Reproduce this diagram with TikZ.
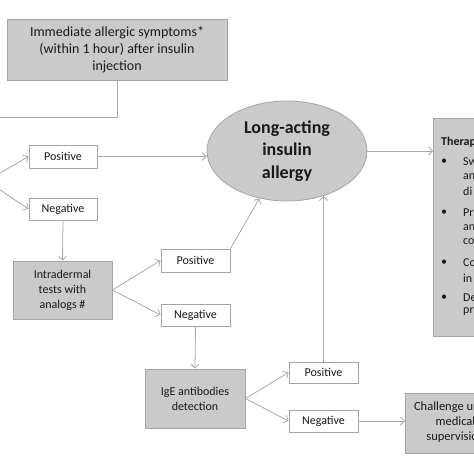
\documentclass[tikz,border=0pt]{standalone}
\usepackage{fontspec}
\setmainfont{Carlito}
\usetikzlibrary{shapes.geometric,arrows.meta}
\definecolor{boxfill}{RGB}{202,202,202}
\definecolor{boxline}{RGB}{165,165,165}
\definecolor{conn}{RGB}{170,170,170}
\definecolor{txt}{RGB}{25,25,25}
\tikzset{
  graybox/.style={draw=boxline, fill=boxfill, line width=0.8pt, inner sep=0pt, text=txt, align=center},
  labbox/.style={draw=boxline, fill=white, line width=0.8pt, inner sep=0pt, text=txt, font=\fontsize{12}{14}\selectfont},
  conn/.style={draw=conn, line width=0.8pt, -{Straight Barb[length=4pt,width=8pt]}},
  plain/.style={draw=conn, line width=0.8pt},
  bul/.style={text=txt, inner sep=0pt, font=\fontsize{12}{14}\selectfont},
}
\begin{document}
\begin{tikzpicture}[x=1pt,y=-1pt]
\useasboundingbox (0,0) rectangle (474,474);
\fill[white] (0,0) rectangle (474,474);
\clip (0,0) rectangle (474,474);

% nodes
\node[graybox, minimum width=220, minimum height=61, font=\fontsize{14}{17}\selectfont] (top) at (117,49.5)
  {Immediate allergic symptoms*\\(within 1 hour) after insulin\\injection};
\node[labbox, minimum width=68, minimum height=23] (pos1) at (63,156.5) {Positive};
\node[labbox, minimum width=68, minimum height=22] (neg1) at (63,209) {Negative};
\node[graybox, minimum width=99, minimum height=58, font=\fontsize{12}{15}\selectfont] (intra) at (62.5,290)
  {Intradermal\\tests with\\analogs \#};
\node[labbox, minimum width=69, minimum height=23] (pos2) at (195.5,260.5) {Positive};
\node[labbox, minimum width=69, minimum height=22] (neg2) at (195.5,315) {Negative};
\node[graybox, ellipse, minimum width=160, minimum height=100, font=\fontsize{18}{22.5}\selectfont\bfseries] (ell) at (287,151)
  {Long-acting\\insulin\\allergy};
\node[graybox, anchor=north west, minimum width=140, minimum height=218] (ther) at (433,118) {};
\node[graybox, minimum width=100, minimum height=59, font=\fontsize{12}{15}\selectfont] (ige) at (195,398.5)
  {IgE antibodies\\detection};
\node[labbox, minimum width=69, minimum height=21] (pos3) at (323.5,372.5) {Positive};
\node[labbox, minimum width=69, minimum height=22] (neg3) at (323.5,421) {Negative};
\node[graybox, anchor=north west, minimum width=140, minimum height=60] (chal) at (405,393) {};
\node[text=txt, inner sep=0pt, align=center, font=\fontsize{12.5}{15}\selectfont] (chaltext) at (455.5,422)
  {Challenge under\\medical\\supervision};

% therapy box text
\node[bul, anchor=west, font=\fontsize{12}{14}\selectfont\bfseries] (tt) at (441,142) {Therapeutic};
\node[bul] (b1) at (444,162) {•};
\node[bul] (b2) at (444,213) {•};
\node[bul] (b3) at (444,263) {•};
\node[bul] (b4) at (444,298) {•};
\node[bul, anchor=west] (l1) at (463,162) {Sw};
\node[bul, anchor=west] (l2) at (463,177) {an};
\node[bul, anchor=west] (l3) at (463,191) {di};
\node[bul, anchor=west] (l4) at (463,213) {Pr};
\node[bul, anchor=west] (l5) at (463,228) {an};
\node[bul, anchor=west] (l6) at (463,242) {co};
\node[bul, anchor=west] (l7) at (463,263) {Co};
\node[bul, anchor=west] (l8) at (463,278) {in};
\node[bul, anchor=west] (l9) at (463,298) {De};
\node[bul, anchor=west] (l10) at (463,312) {pr};

% off-canvas sources
\coordinate (lt) at (-10,117);
\coordinate (src1) at (-6,176.5);
\coordinate (src2) at (-6,186);

% connectors
\draw[plain] (top.south) |- (lt);
\draw[conn] (src1) -- (pos1.west);
\draw[conn] (src2) -- (neg1.west);
\draw[conn] (pos1.east) -- (pos1.east -| ell.west);
\draw[conn] (neg1.south) -- (intra.north);
\draw[conn] (intra.east) -- (pos2.west);
\draw[conn] (intra.east) -- (neg2.west);
\draw[conn] (pos2.north east) -- (ell);
\draw[conn] (neg2.south) -- (ige.north);
\draw[conn] (ige.east) -- (pos3.west);
\draw[conn] (ige.east) -- (neg3.west);
\draw[conn] (pos3.north) -- (pos3.north |- ell.-51.2);
\draw[conn] (ell.east) -- (ell.east -| ther.west);
\draw[conn] (neg3.east) -- (neg3.east -| chal.west);
\end{tikzpicture}
\end{document}
